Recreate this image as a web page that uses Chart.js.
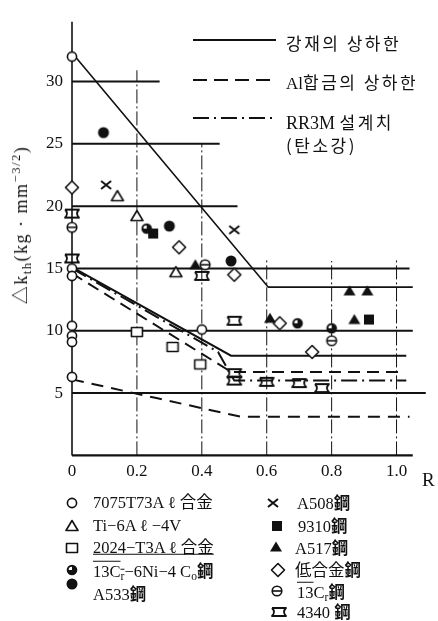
<!DOCTYPE html>
<html><head><meta charset="utf-8">
<script src="https://cdn.jsdelivr.net/npm/chart.js@4.4.0/dist/chart.umd.min.js"></script>
<style>
html,body{margin:0;padding:0;background:#fff;}
#wrap{position:relative;width:438px;height:621px;overflow:hidden;background:#fff;}
#c{position:absolute;left:0;top:0;}
.t{position:absolute;white-space:nowrap;transform:translateY(-50%);color:#111;font-family:"Liberation Serif","Noto Sans CJK KR",serif;line-height:1;}
.kr{font-family:"Noto Sans CJK KR",sans-serif;letter-spacing:2.5px;}
.top{font-size:17px;}
.lg{font-size:16.5px;}
.b{font-weight:bold;font-family:"Noto Sans CJK TC","Noto Sans CJK KR",sans-serif;}
sub{font-size:0.7em;vertical-align:-0.3em;line-height:0;}
sup{font-size:0.7em;vertical-align:0.55em;line-height:0;}
.ol{text-decoration:overline;}
.ul{text-decoration:underline;}
#ytitle{left:21px;top:225px;transform:translate(-50%,-50%) rotate(-90deg);font-size:18px;letter-spacing:1.5px;}
.mk{position:absolute;}
</style></head><body>
<div id="wrap">
<canvas id="c" width="438" height="621"></canvas>
<svg style="position:absolute;left:0;top:0" width="438" height="160">
  <line x1="193" y1="40" x2="276" y2="40" stroke="#111" stroke-width="2"/>
  <line x1="193" y1="80" x2="276" y2="80" stroke="#111" stroke-width="2" stroke-dasharray="14,7"/>
  <line x1="193" y1="118" x2="276" y2="118" stroke="#111" stroke-width="2" stroke-dasharray="16,5,2,5"/>
</svg>
<div class="t top kr" style="left:286px;top:42px">강재의 상하한</div>
<div class="t top" style="left:286px;top:82px">Al<span class="kr">합금의 상하한</span></div>
<div class="t top" style="left:286px;top:122px;font-size:18px">RR3M <span class="kr" style="font-size:17px">설계치</span></div>
<div class="t top kr" style="left:286px;top:144px">(탄소강)</div>
<div class="t" id="ytitle">△k<sub>th</sub>(kg · mm<sup>−3/2</sup>)</div>
<div class="t" style="left:422px;top:479px;font-size:19px">R</div>

<div class="t lg" style="left:93px;top:503px">7075T73A ℓ 合金</div>
<div class="t lg" style="left:93px;top:526px">Ti−6A ℓ −4V</div>
<div class="t lg" style="left:93px;top:548px"><span class="ul">2024−T3A ℓ 合金</span></div>
<div class="t lg" style="left:93px;top:571px"><span class="ol">13C<sub>r</sub></span>−6Ni−4 C<sub>o</sub><span class="b">鋼</span></div>
<div class="t lg" style="left:93px;top:594px">A533<span class="b">鋼</span></div>
<div class="t lg" style="left:297px;top:503px">A508<span class="b">鋼</span></div>
<div class="t lg" style="left:298px;top:526px">9310<span class="b">鋼</span></div>
<div class="t lg" style="left:295px;top:548px">A517<span class="b">鋼</span></div>
<div class="t lg" style="left:295px;top:570px">低合金<span class="b">鋼</span></div>
<div class="t lg" style="left:297px;top:592px"><span class="ol">13</span>C<sub>r</sub><span class="b">鋼</span></div>
<div class="t lg" style="left:297px;top:612px">4340 <span class="b">鋼</span></div>
</div>
<script>
// ---- tick labels ----
const xTicks = [0, 0.2, 0.4, 0.6, 0.8, 1.0];
const xTickLabels = ['0', '0.2', '0.4', '0.6', '0.8', '1.0'];
const yTicks = [5, 10, 15, 20, 25, 30];

// ---- boundary lines (R, Δk_th) ----
const steelUpperR = [0, 0.605, 1.05];
const steelUpperK = [32.3, 13.5, 13.5];
const steelLowerR = [0, 0.49, 1.03];
const steelLowerK = [15.1, 8.0, 8.0];
const alUpperR = [0, 0.49, 1.02];
const alUpperK = [14.6, 6.7, 6.7];
const alLowerR = [0, 0.26, 0.52, 1.04];
const alLowerK = [6.1, 4.6, 3.1, 3.1];
const designR = [0, 0.45, 0.5, 1.03];
const designK = [15.0, 8.3, 6.0, 6.0];

// ---- frame / grid segments ----
const gridH = [30, 25, 20, 15, 10, 5];
const gridHEnd = [0.27, 0.455, 0.51, 1.04, 1.05, 1.09];
const gridV = [0.2, 0.4, 0.6, 0.8, 1.0];
const gridVTop = [30.9, 25, 15.8, 15.6, 15.8];
const yAxisTop = 34.8;
const xAxisEnd = 1.05;

// ---- data points ----
const al7075R = [0, 0, 0, 0, 0, 0, 0, 0.4];
const al7075K = [32.0, 15.0, 14.4, 10.4, 9.6, 9.1, 6.3, 10.1];
const ti64R = [0.14, 0.2, 0.32];
const ti64K = [20.8, 19.2, 14.7];
const al2024R = [0.2, 0.31, 0.395];
const al2024K = [9.9, 8.7, 7.3];
const cr13NiCoR = [0.23, 0.695, 0.8];
const cr13NiCoK = [18.2, 10.6, 10.2];
const a533R = [0.097, 0.3, 0.49];
const a533K = [25.9, 18.4, 15.6];
const a508R = [0.105, 0.5];
const a508K = [21.7, 18.1];
const s9310R = [0.25, 0.915];
const s9310K = [17.8, 10.9];
const a517R = [0.38, 0.61, 0.855, 0.87, 0.91];
const a517K = [15.3, 11.0, 13.2, 10.9, 13.2];
const lowAlloyR = [0, 0.33, 0.5, 0.64, 0.74];
const lowAlloyK = [21.5, 16.7, 14.5, 10.6, 8.3];
const cr13R = [0, 0.41, 0.8];
const cr13K = [18.3, 15.3, 9.2];
const s4340R = [0, 0, 0.4, 0.5, 0.5, 0.5, 0.6, 0.7, 0.77];
const s4340K = [19.4, 15.8, 14.4, 10.8, 6.6, 6.0, 5.9, 5.8, 5.4];

function pts(R, K) { return R.map((r, i) => ({ x: r, y: K[i] })); }

function markerCanvas(type) {
  const s = 18, c = document.createElement('canvas');
  c.width = s; c.height = s;
  const g = c.getContext('2d'), m = s / 2;
  g.strokeStyle = '#111'; g.fillStyle = '#111'; g.lineWidth = 1.6; g.lineJoin = 'round';
  const openFill = () => { g.fillStyle = '#fff'; g.fill(); g.stroke(); };
  g.beginPath();
  switch (type) {
    case 'circleOpen': g.arc(m, m, 4.6, 0, 2 * Math.PI); openFill(); break;
    case 'triOpen': g.moveTo(m, m - 5.5); g.lineTo(m + 6, m + 4.5); g.lineTo(m - 6, m + 4.5); g.closePath(); openFill(); break;
    case 'triFill': g.moveTo(m, m - 5.5); g.lineTo(m + 6, m + 4.5); g.lineTo(m - 6, m + 4.5); g.closePath(); g.fill(); break;
    case 'rectOpen': g.rect(m - 5.5, m - 4.5, 11, 9); openFill(); break;
    case 'circleHalf':
      g.arc(m, m, 5.3, 0, 2 * Math.PI); g.fill();
      g.beginPath(); g.moveTo(m, m); g.arc(m, m, 3.3, Math.PI, 1.5 * Math.PI); g.closePath(); g.fillStyle = '#fff'; g.fill(); break;
    case 'circleFill': g.arc(m, m, 5.5, 0, 2 * Math.PI); g.fill(); break;
    case 'cross': g.lineWidth = 2; g.moveTo(m - 5, m - 4); g.lineTo(m + 5, m + 4); g.moveTo(m + 5, m - 4); g.lineTo(m - 5, m + 4); g.stroke(); break;
    case 'square': g.fillRect(m - 5, m - 5, 10, 10); break;
    case 'diamond': g.moveTo(m, m - 6.5); g.lineTo(m + 6.5, m); g.lineTo(m, m + 6.5); g.lineTo(m - 6.5, m); g.closePath(); openFill(); break;
    case 'circleBar': g.arc(m, m, 4.8, 0, 2 * Math.PI); openFill(); g.beginPath(); g.moveTo(m - 4.8, m); g.lineTo(m + 4.8, m); g.stroke(); break;
    case 'wave':
      g.lineWidth = 1.8;
      g.moveTo(m - 7, m - 4); g.lineTo(m + 7, m - 4);
      g.quadraticCurveTo(m + 3, m, m + 7, m + 4);
      g.lineTo(m - 7, m + 4);
      g.quadraticCurveTo(m - 3, m, m - 7, m - 4);
      g.stroke(); break;
  }
  return c;
}

const series = [
  { R: al7075R, K: al7075K, m: 'circleOpen', lx: 72, ly: 503 },
  { R: ti64R, K: ti64K, m: 'triOpen', lx: 72, ly: 526 },
  { R: al2024R, K: al2024K, m: 'rectOpen', lx: 72, ly: 548 },
  { R: cr13NiCoR, K: cr13NiCoK, m: 'circleHalf', lx: 72, ly: 570 },
  { R: a533R, K: a533K, m: 'circleFill', lx: 72, ly: 584 },
  { R: a508R, K: a508K, m: 'cross', lx: 273, ly: 503 },
  { R: s9310R, K: s9310K, m: 'square', lx: 277, ly: 526 },
  { R: a517R, K: a517K, m: 'triFill', lx: 276, ly: 547 },
  { R: lowAlloyR, K: lowAlloyK, m: 'diamond', lx: 278, ly: 570 },
  { R: cr13R, K: cr13K, m: 'circleBar', lx: 277, ly: 591 },
  { R: s4340R, K: s4340K, m: 'wave', lx: 279, ly: 612 }
];

const datasets = [];
series.forEach(s => {
  datasets.push({ data: pts(s.R, s.K), pointStyle: markerCanvas(s.m), pointRadius: 8, showLine: false, clip: false });
  const mc = markerCanvas(s.m);
  mc.className = 'mk';
  mc.style.left = (s.lx - 9) + 'px';
  mc.style.top = (s.ly - 9) + 'px';
  document.getElementById('wrap').appendChild(mc);
});

function lineDs(R, K, dash, w) {
  return { data: pts(R, K), showLine: true, borderColor: '#111', borderWidth: w, borderDash: dash, pointRadius: 0, tension: 0, clip: false };
}
datasets.push(lineDs(steelUpperR, steelUpperK, [], 1.6));
datasets.push(lineDs(steelLowerR, steelLowerK, [], 2));
datasets.push(lineDs(alUpperR, alUpperK, [12, 7], 2));
datasets.push(lineDs(alLowerR, alLowerK, [12, 8], 2));
datasets.push(lineDs(designR, designK, [16, 5, 2, 5], 2));
gridH.forEach((v, i) => datasets.push(lineDs([0, gridHEnd[i]], [v, v], [], 2)));
gridV.forEach((v, i) => datasets.push(lineDs([v, v], [0, gridVTop[i]], [14, 3, 2, 3], 1)));
datasets.push(lineDs([0, 0], [0, yAxisTop], [], 1.6));
datasets.push(lineDs([0, xAxisEnd], [0, 0], [], 2.2));

const tickFont = { family: 'Liberation Serif', size: 17 };
new Chart(document.getElementById('c'), {
  type: 'scatter',
  data: { datasets },
  options: {
    responsive: false, animation: false, devicePixelRatio: 1,
    layout: { padding: { left: 0, top: 9.5, right: 1.9, bottom: 131 } },
    plugins: { legend: { display: false }, tooltip: { enabled: false } },
    scales: {
      x: {
        type: 'linear', min: 0, max: 1.1,
        afterBuildTicks: s => { s.ticks = xTicks.map(v => ({ value: v })); },
        afterFit: s => { s.height = 34.6; },
        grid: { display: false, drawTicks: false }, border: { display: false },
        ticks: {
          autoSkip: false, maxRotation: 0, padding: 6, color: '#111', font: tickFont,
          callback: v => { const i = xTicks.findIndex(t => Math.abs(t - v) < 1e-9); return i >= 0 ? xTickLabels[i] : ''; }
        }
      },
      y: {
        type: 'linear', min: 0, max: 35,
        afterBuildTicks: s => { s.ticks = yTicks.map(v => ({ value: v })); },
        afterFit: s => { s.width = 72; },
        grid: { display: false, drawTicks: false }, border: { display: false },
        ticks: { padding: 9, color: '#111', font: tickFont, callback: v => String(v) }
      }
    }
  }
});
</script>
</body></html>
